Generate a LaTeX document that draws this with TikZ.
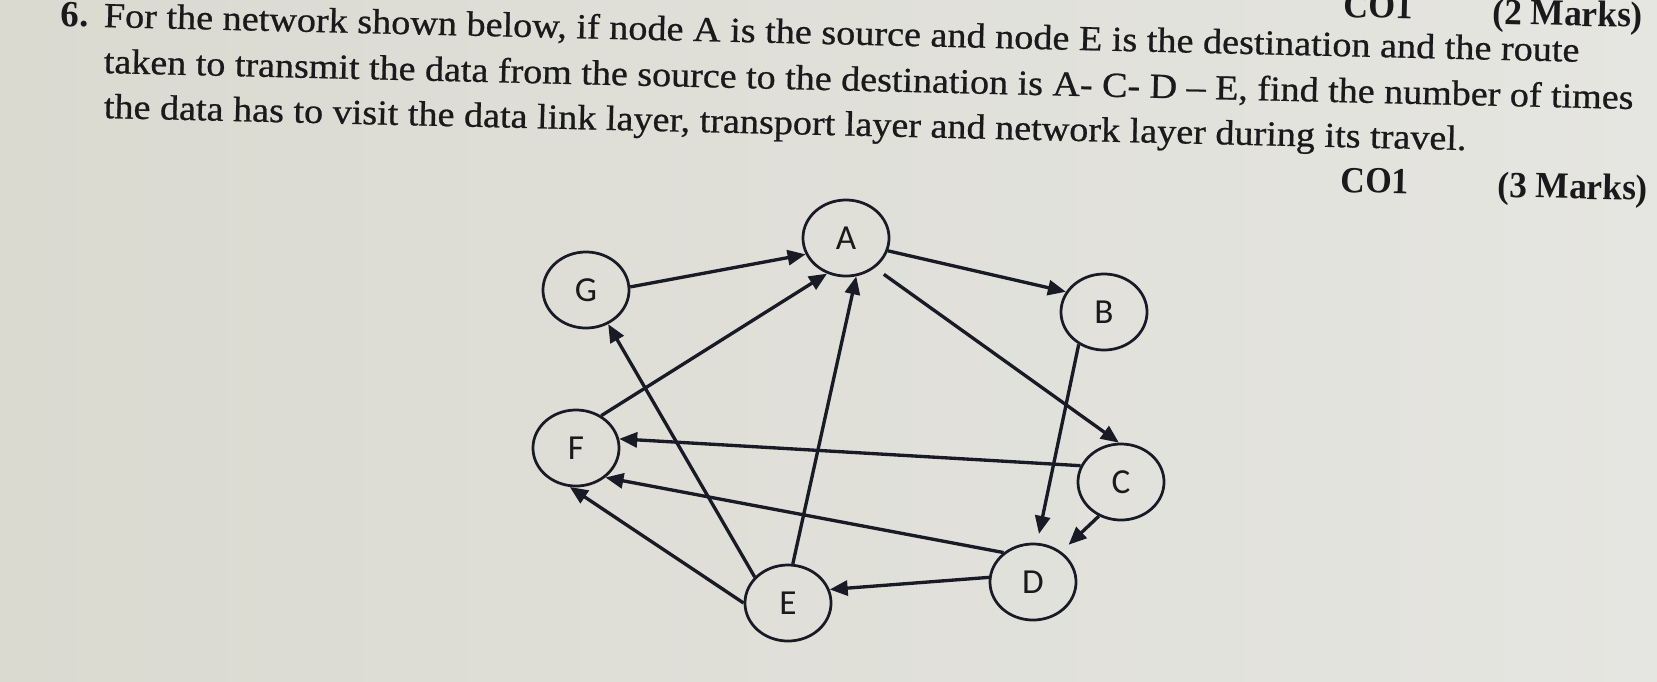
\documentclass[tikz,border=0pt]{standalone}
\usepackage{fontspec}
\setmainfont{Liberation Serif}
\newfontfamily\qfont[FakeBold=0.7,Ligatures=TeX]{Liberation Serif}
\newfontfamily\nodefont{Carlito}
\usetikzlibrary{arrows.meta,shapes.geometric}
\definecolor{paperL}{RGB}{219,218,209}
\definecolor{paperR}{RGB}{229,229,225}
\definecolor{ink}{RGB}{26,26,28}
\definecolor{wire}{RGB}{24,27,38}
\begin{document}
\begin{tikzpicture}[x=0.01cm, y=-0.01cm,
    vertex/.style={ellipse, draw=wire, line width=0.78pt, minimum width=0.86cm, minimum height=0.76cm, inner sep=0pt, font=\nodefont\fontsize{10}{11}\selectfont, text=ink},
    arc/.style={-{Triangle[length=0.18cm,width=0.15cm]}, draw=wire, line width=0.95pt},
    qline/.style={anchor=base west, rotate=-1.35, inner sep=0pt, text=ink, font=\qfont\fontsize{10}{12}\selectfont},
    score/.style={qline, font=\fontsize{10.5}{12}\selectfont\bfseries}
]
    \useasboundingbox (0,0) rectangle (1657,681);
    \shade[left color=paperL, right color=paperR] (0,0) rectangle (1657,681);
    % question text
    \node[score] (num) at (60,26) {6.};
    \node[qline] (q1) at (103,27) {\resizebox{14.75cm}{\height}{For the network shown below, if node A is the source and node E is the destination and the route}};
    \node[qline] (q2) at (103,73) {\resizebox{15.29cm}{\height}{taken to transmit the data from the source to the destination is A- C- D – E, find the number of times}};
    \node[qline] (q3) at (103,118) {\resizebox{13.62cm}{\height}{the data has to visit the data link layer, transport layer and network layer during its travel.}};
    \node[score] (co0) at (1343,17) {\resizebox{0.69cm}{\height}{CO1}};
    \node[score] (mk0) at (1492,24) {\resizebox{1.5cm}{\height}{(2 Marks)}};
    \node[score] (co1) at (1340,192) {\resizebox{0.68cm}{\height}{CO1}};
    \node[score] (mk1) at (1497,197) {\resizebox{1.5cm}{\height}{(3 Marks)}};
    % network
    \foreach \n/\x/\y in {A/846/238, B/1104/312, C/1121/482, D/1033/582, E/788/603, F/576/448, G/586/290} {
        \node[vertex] (\n) at (\x,\y) {\n};
    }
    \foreach \a/\b in {G.4/A.202, F.52/A.242, E.142/G.303, E.83/A.285, C.158/F.12, D.135/F.315, E.180/F.261, D.174/E.18, A.343/B.152} {
        \draw[arc] (\a) -- (\b);
    }
    \draw[arc, shorten <=0.11cm] (A.314) -- (C.93);
    \draw[arc, shorten >=0.09cm] (B.232) -- (D.84);
    \draw[arc, shorten >=0.1cm] (C.237) -- (D.47);
\end{tikzpicture}
\end{document}
